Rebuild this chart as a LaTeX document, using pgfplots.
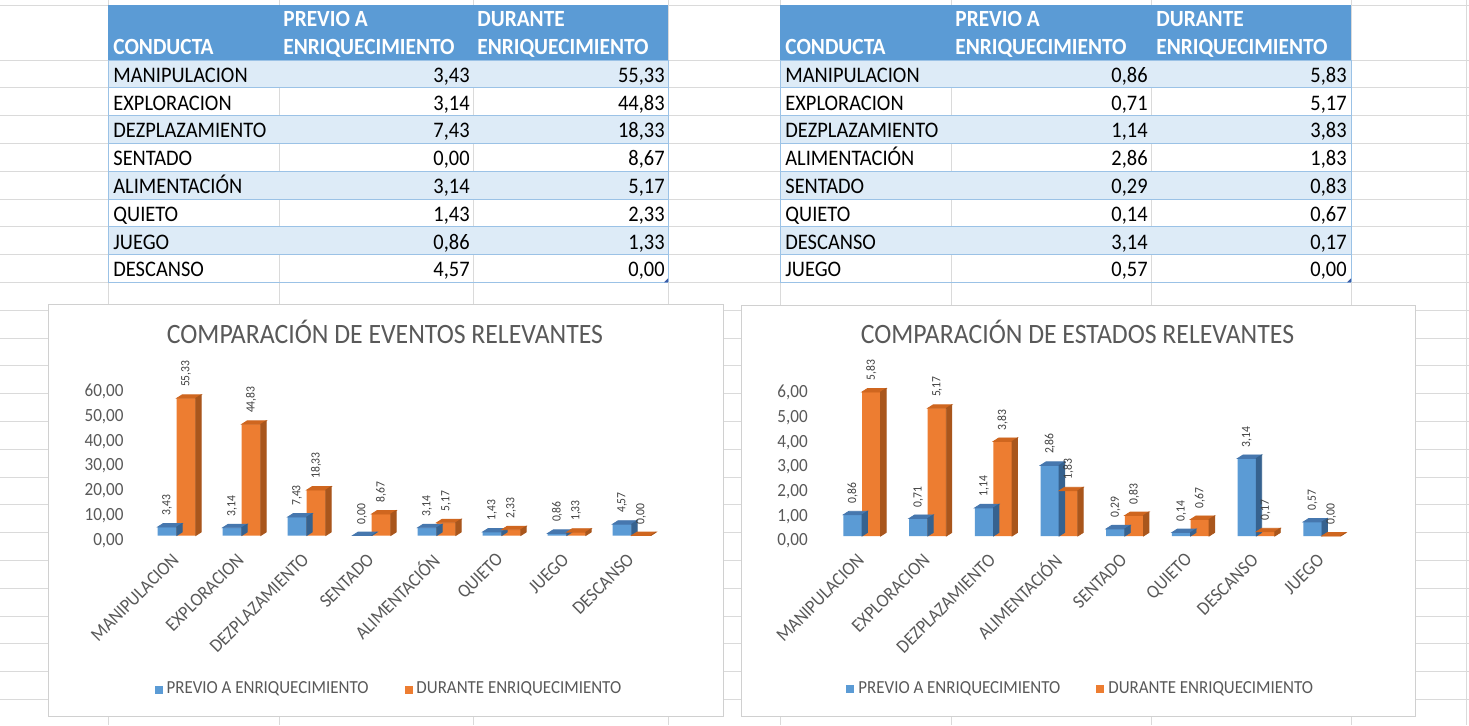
\documentclass[border=0pt]{standalone}
\usepackage{fontspec}
\setmainfont{Carlito}[FakeStretch=0.92]
\usepackage{graphicx}
\usepackage{pgfplots}
\pgfplotsset{compat=1.18}
\usepackage{pgfplotstable}

\definecolor{xlBlue}{HTML}{5B9BD5}
\definecolor{xlBlueTop}{HTML}{4677AE}
\definecolor{xlBlueSide}{HTML}{36628F}
\definecolor{xlOrange}{HTML}{ED7D31}
\definecolor{xlOrangeTop}{HTML}{CF661F}
\definecolor{xlOrangeSide}{HTML}{A9561C}
\definecolor{band}{HTML}{DDEBF7}
\definecolor{bandLine}{HTML}{9BC2E6}
\definecolor{gridc}{HTML}{DADADA}
\definecolor{chartborder}{HTML}{D0D0D0}
\definecolor{txtgray}{HTML}{595959}
\definecolor{lblgray}{HTML}{404040}
\definecolor{handle}{HTML}{3B5BA5}

% EVENTOS
\pgfplotstableread{
cat prev dur
MANIPULACION 3.43 55.33
EXPLORACION 3.14 44.83
DEZPLAZAMIENTO 7.43 18.33
SENTADO 0.00 8.67
ALIMENTACION 3.14 5.17
QUIETO 1.43 2.33
JUEGO 0.86 1.33
DESCANSO 4.57 0.00
}\eventos
% ESTADOS
\pgfplotstableread{
cat prev dur
MANIPULACION 0.86 5.83
EXPLORACION 0.71 5.17
DEZPLAZAMIENTO 1.14 3.83
ALIMENTACION 2.86 1.83
SENTADO 0.29 0.83
QUIETO 0.14 0.67
DESCANSO 3.14 0.17
JUEGO 0.57 0.00
}\estados

\newcommand\dX{2.75pt}
\newcommand\dY{1.75pt}

\pgfplotsset{
  chart/.style={
    scale only axis, clip=false, enlargelimits=false,
    axis line style={draw=none}, major tick length=0pt, tick style={draw=none},
    /pgf/number format/fixed, /pgf/number format/fixed zerofill,
    /pgf/number format/precision=2, /pgf/number format/use comma,
    /pgf/number format/assume math mode=true,
    yticklabel style={font=\fontsize{9.3}{10}\selectfont, text=txtgray, inner sep=0pt, xshift=-2pt, yshift=-2.5pt},
    xticklabel style={font=\fontsize{9.5}{10}\selectfont, text=txtgray, inner sep=0pt, xshift=-0.5pt, yshift=-10.5pt, rotate=45, anchor=east},
    legend style={draw=none, fill=none, legend columns=2, font=\fontsize{9.2}{10}\selectfont, text=txtgray, anchor=center,
      /tikz/every even column/.append style={column sep=16pt}},
  },
  front/.style n args={3}{% #1 shift, #2 width, #3 colour
    ybar, bar width=#2, bar shift=#1, fill=#3, draw=none,
    legend image code/.code={\fill[##1] (0pt,-2pt) rectangle (4pt,2pt);},
    nodes near coords={\rotatebox{90}{\pgfmathprintnumber{\pgfplotspointmeta}}},
    every node near coord/.append style={font=\fontsize{6.3}{7}\selectfont, text=lblgray, anchor=south, inner sep=0pt, xshift=#1, yshift=5.5pt},
  },
  faces/.style n args={5}{% #1 front left offset, #2 bar width, #3 y unit, #4 top colour, #5 side colour
    forget plot, only marks, scatter, mark=*, mark size=0pt,
    mark options={draw=none, fill=none},
    visualization depends on={rawy \as \rawy},
    scatter/@pre marker code/.code={%
      \pgfmathsetlengthmacro\barhh{\rawy*#3}%
      \fill[#4] (#1,0pt) -- ++(\dX,\dY) -- ++(#2,0pt) -- ++(-\dX,-\dY) -- cycle;
      \fill[#5] (#1+#2,0pt) -- ++(\dX,\dY) -- ++(0pt,-\barhh) -- ++(-\dX,-\dY) -- cycle;
    },
    scatter/@post marker code/.code={},
  },
}

\newcommand\trow[7]{%
  \node[anchor=base west,inner sep=0pt] at (#1,{60+27.8*#4-5.5}) {#5};
  \node[anchor=base east,inner sep=0pt] at (#2,{60+27.8*#4-5.5}) {#6};
  \node[anchor=base east,inner sep=0pt] at (#3,{60+27.8*#4-5.5}) {#7};
}

\begin{document}
\begin{tikzpicture}
\begin{scope}[x=0.5pt,y=-0.5pt, every node/.style={font=\fontsize{11.1}{13}\selectfont}]
  % spreadsheet grid
  \draw[gridc, line width=0.5pt] (0,5) -- (1469,5);
  \foreach \k in {0,...,23} \draw[gridc, line width=0.5pt] (0,{60+27.8*\k}) -- (1469,{60+27.8*\k});
  \foreach \xx in {108,279,473,668,780,951,1151,1351,1466} \draw[gridc, line width=0.5pt] (\xx,0) -- (\xx,725);
  % tables
  \foreach \xa/\xb in {108/668, 780/1351}{
    \fill[xlBlue] (\xa,5) rectangle (\xb,60);
    \foreach \k in {0,2,4,6} \fill[band] (\xa,{60+27.8*\k}) rectangle (\xb,{60+27.8*(\k+1)});
    \foreach \k in {0,...,8} \draw[bandLine, line width=0.5pt] (\xa,{60+27.8*\k}) -- (\xb,{60+27.8*\k});
    \draw[bandLine, line width=0.5pt] (\xa,60) -- (\xa,282.4) (\xb,60) -- (\xb,282.4);
    \fill[handle] (\xb-4,282.4) -- (\xb,282.4) -- (\xb,278.4) -- cycle;
  }
  % headers
  \begin{scope}[every node/.style={font=\fontsize{11.6}{13}\selectfont\bfseries, text=white, anchor=base west, inner sep=0pt}]
    \node at (113,54) {CONDUCTA};
    \node at (283,26.7) {PREVIO A};
    \node at (283,54) {ENRIQUECIMIENTO};
    \node at (477,26.7) {DURANTE};
    \node at (477,54) {ENRIQUECIMIENTO};
    \node at (785,54) {CONDUCTA};
    \node at (955,26.7) {PREVIO A};
    \node at (955,54) {ENRIQUECIMIENTO};
    \node at (1156,26.7) {DURANTE};
    \node at (1156,54) {ENRIQUECIMIENTO};
  \end{scope}
  \trow{113}{470}{665}{1}{MANIPULACION}{3,43}{55,33}
  \trow{113}{470}{665}{2}{EXPLORACION}{3,14}{44,83}
  \trow{113}{470}{665}{3}{DEZPLAZAMIENTO}{7,43}{18,33}
  \trow{113}{470}{665}{4}{SENTADO}{0,00}{8,67}
  \trow{113}{470}{665}{5}{ALIMENTACIÓN}{3,14}{5,17}
  \trow{113}{470}{665}{6}{QUIETO}{1,43}{2,33}
  \trow{113}{470}{665}{7}{JUEGO}{0,86}{1,33}
  \trow{113}{470}{665}{8}{DESCANSO}{4,57}{0,00}
  \trow{785}{1148}{1347}{1}{MANIPULACION}{0,86}{5,83}
  \trow{785}{1148}{1347}{2}{EXPLORACION}{0,71}{5,17}
  \trow{785}{1148}{1347}{3}{DEZPLAZAMIENTO}{1,14}{3,83}
  \trow{785}{1148}{1347}{4}{ALIMENTACIÓN}{2,86}{1,83}
  \trow{785}{1148}{1347}{5}{SENTADO}{0,29}{0,83}
  \trow{785}{1148}{1347}{6}{QUIETO}{0,14}{0,67}
  \trow{785}{1148}{1347}{7}{DESCANSO}{3,14}{0,17}
  \trow{785}{1148}{1347}{8}{JUEGO}{0,57}{0,00}
  % chart areas
  \filldraw[fill=white, draw=chartborder, line width=0.5pt] (48,304) rectangle (723,716);
  \filldraw[fill=white, draw=chartborder, line width=0.5pt] (741,305) rectangle (1415,716);
  \node[anchor=base, text=txtgray, font=\fontsize{14}{16}\selectfont] at (385,343) {COMPARACIÓN DE EVENTOS RELEVANTES};
  \node[anchor=base, text=txtgray, font=\fontsize{14}{16}\selectfont] at (1077.5,343) {COMPARACIÓN DE ESTADOS RELEVANTES};
\end{scope}

% ---------- left chart ----------
\begin{axis}[chart,
  at={(63.975pt,-267.75pt)}, anchor=south west,
  x=32.5pt, y=1.24pt, xmin=-0.75, xmax=7.5, ymin=0, ymax=60,
  ytick={0,10,...,60}, xtick={0,...,7},
  xticklabels={MANIPULACION,EXPLORACION,DEZPLAZAMIENTO,SENTADO,ALIMENTACIÓN,QUIETO,JUEGO,DESCANSO},
  legend style={at={(0.4885,-1.0350)}},
]
\addplot[front={-4.75pt}{9.5pt}{xlBlue}] table[x expr=\coordindex, y=prev] {\eventos};
\addlegendentry{PREVIO A ENRIQUECIMIENTO}
\addplot[faces={-9.5pt}{9.5pt}{1.24pt}{xlBlueTop}{xlBlueSide}] table[x expr=\coordindex, y=prev] {\eventos};
\addplot[front={4.75pt}{9.5pt}{xlOrange}] table[x expr=\coordindex, y=dur] {\eventos};
\addlegendentry{DURANTE ENRIQUECIMIENTO}
\addplot[faces={0pt}{9.5pt}{1.24pt}{xlOrangeTop}{xlOrangeSide}] table[x expr=\coordindex, y=dur] {\eventos};
\end{axis}

% ---------- right chart ----------
\begin{axis}[chart,
  at={(406.035pt,-268pt)}, anchor=south west,
  x=32.85pt, y=12.35pt, xmin=-0.76, xmax=7.5, ymin=0, ymax=6,
  ytick={0,1,...,6}, xtick={0,...,7},
  xticklabels={MANIPULACION,EXPLORACION,DEZPLAZAMIENTO,ALIMENTACIÓN,SENTADO,QUIETO,DESCANSO,JUEGO},
  legend style={at={(0.4970,-1.0356)}},
]
\addplot[front={-4.65pt}{9.3pt}{xlBlue}] table[x expr=\coordindex, y=prev] {\estados};
\addlegendentry{PREVIO A ENRIQUECIMIENTO}
\addplot[faces={-9.3pt}{9.3pt}{12.35pt}{xlBlueTop}{xlBlueSide}] table[x expr=\coordindex, y=prev] {\estados};
\addplot[front={4.65pt}{9.3pt}{xlOrange}] table[x expr=\coordindex, y=dur] {\estados};
\addlegendentry{DURANTE ENRIQUECIMIENTO}
\addplot[faces={0pt}{9.3pt}{12.35pt}{xlOrangeTop}{xlOrangeSide}] table[x expr=\coordindex, y=dur] {\estados};
\end{axis}

\pgfresetboundingbox
\path[use as bounding box] (0pt,0pt) rectangle (734.5pt,-362.5pt);
\end{tikzpicture}
\end{document}
